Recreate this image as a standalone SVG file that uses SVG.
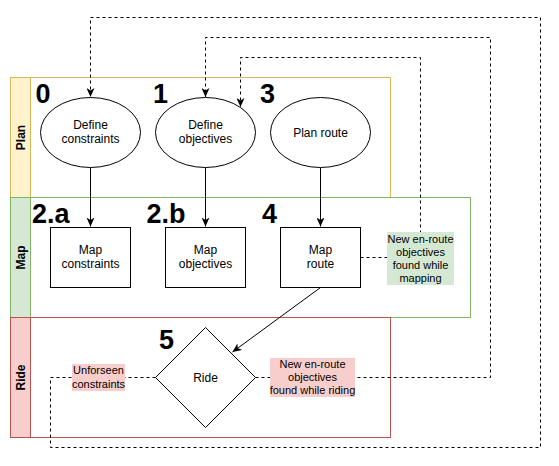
<svg xmlns="http://www.w3.org/2000/svg" width="559" height="466" viewBox="0 0 559 466">
<defs>
<style>
text{font-family:"Liberation Sans",Arial,sans-serif;fill:#000}
.n{font-size:12px;text-anchor:middle}
.l{font-size:11px;text-anchor:middle}
.num{font-size:27px;font-weight:bold}
.hd{font-size:12px;font-weight:bold;text-anchor:middle}
.shape{fill:#fff;stroke:#000;stroke-width:1}
.e{fill:none;stroke:#000;stroke-width:1}
.d{fill:none;stroke:#000;stroke-width:1;stroke-dasharray:3 3}
</style>
<marker id="ar" viewBox="0 0 10 8" refX="9" refY="4" markerWidth="10" markerHeight="8" markerUnits="userSpaceOnUse" orient="auto">
<path d="M0,0 L9,4 L0,8 L2.5,4 z" fill="#000"/>
</marker>
</defs>
<rect width="559" height="466" fill="#fff"/>
<g id="lane-plan">
<rect x="10.5" y="77.5" width="380" height="120" fill="#fff" stroke="#d6b656"/>
<rect x="10.5" y="77.5" width="20" height="120" fill="#fff2cc" stroke="#d6b656"/>
<text class="hd" transform="translate(24.5,137.5) rotate(-90)">Plan</text>
</g>
<g id="lane-map">
<rect x="10.5" y="197.5" width="460" height="120" fill="#fff" stroke="#82b366"/>
<rect x="10.5" y="197.5" width="20" height="120" fill="#d5e8d4" stroke="#82b366"/>
<text class="hd" transform="translate(24.5,257.5) rotate(-90)">Map</text>
</g>
<g id="lane-ride">
<rect x="10.5" y="317.5" width="380" height="120" fill="#fff" stroke="#b85450"/>
<rect x="10.5" y="317.5" width="20" height="120" fill="#f8cecc" stroke="#b85450"/>
<text class="hd" transform="translate(24.5,377.5) rotate(-90)">Ride</text>
</g>
<g id="connectors">
<path class="e" d="M90.5,167.5 V226.5" marker-end="url(#ar)"/>
<path class="e" d="M205.5,167.5 V226.5" marker-end="url(#ar)"/>
<path class="e" d="M320.5,167.5 V226.5" marker-end="url(#ar)"/>
<path class="e" d="M320.5,287.5 L232.5,352" marker-end="url(#ar)"/>
<path class="d" d="M360.5,257.5 H420.5 V57.5 H240.5 V107" marker-end="url(#ar)"/>
<path class="d" d="M255.5,377.5 H490.5 V37.5 H205.5 V97" marker-end="url(#ar)"/>
<path class="d" d="M155.5,377.5 H50.5 V447.5 H540.5 V17.5 H90.5 V97" marker-end="url(#ar)"/>
</g>
<g id="label-mapping">
<rect x="387" y="232" width="67" height="53" fill="#d5e8d4"/>
<text class="l" x="420.5" y="242.5">New en-route</text>
<text class="l" x="420.5" y="255.7">objectives</text>
<text class="l" x="420.5" y="268.9">found while</text>
<text class="l" x="420.5" y="282.1">mapping</text>
</g>
<g id="label-riding">
<rect x="270" y="358" width="85" height="39" fill="#f8cecc"/>
<text class="l" x="312.5" y="367.7">New en-route</text>
<text class="l" x="312.5" y="380.9">objectives</text>
<text class="l" x="312.5" y="394.1">found while riding</text>
</g>
<g id="label-unforseen">
<rect x="72" y="364" width="53" height="27" fill="#f8cecc"/>
<text class="l" x="98.5" y="374.3">Unforseen</text>
<text class="l" x="98.5" y="387.5">constraints</text>
</g>
<g id="node-0">
<ellipse class="shape" cx="90.5" cy="132.5" rx="50" ry="35"/>
<text class="n" x="90.5" y="129">Define</text>
<text class="n" x="90.5" y="143.4">constraints</text>
<text class="num" x="35.5" y="102.5">0</text>
</g>
<g id="node-1">
<ellipse class="shape" cx="205.5" cy="132.5" rx="50" ry="35"/>
<text class="n" x="205.5" y="129">Define</text>
<text class="n" x="205.5" y="143.4">objectives</text>
<text class="num" x="153" y="102.5">1</text>
</g>
<g id="node-3">
<ellipse class="shape" cx="320.5" cy="132.5" rx="50" ry="35"/>
<text class="n" x="320.5" y="136.5">Plan route</text>
<text class="num" x="260" y="102.5">3</text>
</g>
<g id="node-2a">
<rect class="shape" x="50.5" y="227.5" width="80" height="60"/>
<text class="n" x="90.5" y="254">Map</text>
<text class="n" x="90.5" y="268.4">constraints</text>
<text class="num" x="32" y="223">2.a</text>
</g>
<g id="node-2b">
<rect class="shape" x="165.5" y="227.5" width="80" height="60"/>
<text class="n" x="205.5" y="254">Map</text>
<text class="n" x="205.5" y="268.4">objectives</text>
<text class="num" x="146.5" y="223">2.b</text>
</g>
<g id="node-4">
<rect class="shape" x="280.5" y="227.5" width="80" height="60"/>
<text class="n" x="320.5" y="254">Map</text>
<text class="n" x="320.5" y="268.4">route</text>
<text class="num" x="262" y="223">4</text>
</g>
<g id="node-5">
<path class="shape" d="M205.5,327.5 L255.5,377.5 L205.5,427.5 L155.5,377.5 z"/>
<text class="n" x="205.5" y="381.5">Ride</text>
<text class="num" x="159" y="348.5">5</text>
</g>
</svg>
